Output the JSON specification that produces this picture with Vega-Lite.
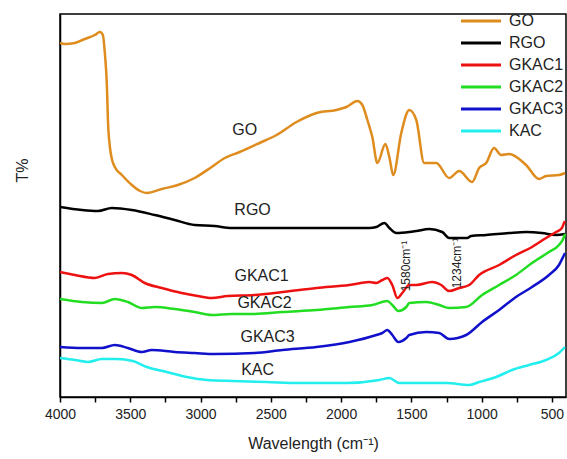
{
  "$schema": "https://vega.github.io/schema/vega-lite/v6.json",
  "width": 506,
  "height": 383,
  "autosize": {"type": "none"},
  "padding": {"left": 60, "top": 14, "right": 1, "bottom": 62},
  "background": "white",
  "config": {
    "view": {"stroke": "black", "strokeWidth": 1.5},
    "font": "Liberation Sans"
  },
  "datasets": {
    "spectra": [
      {"s":"GO","w":4000,"t":354},{"s":"GO","w":3965,"t":353},{"s":"GO","w":3894,"t":354},{"s":"GO","w":3823,"t":358},{"s":"GO","w":3752,"t":362},{"s":"GO","w":3716,"t":365},{"s":"GO","w":3695,"t":362},{"s":"GO","w":3681,"t":344},{"s":"GO","w":3666,"t":310},{"s":"GO","w":3659,"t":277},{"s":"GO","w":3645,"t":250},{"s":"GO","w":3631,"t":238},{"s":"GO","w":3610,"t":230},{"s":"GO","w":3560,"t":222},{"s":"GO","w":3489,"t":212},{"s":"GO","w":3430,"t":206},{"s":"GO","w":3382,"t":204},{"s":"GO","w":3276,"t":208},{"s":"GO","w":3162,"t":212},{"s":"GO","w":3042,"t":219},{"s":"GO","w":2921,"t":230},{"s":"GO","w":2828,"t":239},{"s":"GO","w":2722,"t":245},{"s":"GO","w":2580,"t":254},{"s":"GO","w":2459,"t":262},{"s":"GO","w":2317,"t":275},{"s":"GO","w":2175,"t":284},{"s":"GO","w":2033,"t":287},{"s":"GO","w":1962,"t":290},{"s":"GO","w":1884,"t":296},{"s":"GO","w":1849,"t":292},{"s":"GO","w":1813,"t":277},{"s":"GO","w":1778,"t":260},{"s":"GO","w":1742,"t":234},{"s":"GO","w":1685,"t":253},{"s":"GO","w":1657,"t":240},{"s":"GO","w":1629,"t":222},{"s":"GO","w":1572,"t":264},{"s":"GO","w":1515,"t":287},{"s":"GO","w":1465,"t":277},{"s":"GO","w":1409,"t":234},{"s":"GO","w":1323,"t":234},{"s":"GO","w":1231,"t":219},{"s":"GO","w":1160,"t":226},{"s":"GO","w":1068,"t":215},{"s":"GO","w":1018,"t":229},{"s":"GO","w":968,"t":234},{"s":"GO","w":912,"t":249},{"s":"GO","w":862,"t":242},{"s":"GO","w":805,"t":243},{"s":"GO","w":684,"t":232},{"s":"GO","w":592,"t":218},{"s":"GO","w":542,"t":221},{"s":"GO","w":450,"t":222},{"s":"GO","w":407,"t":224},

      {"s":"RGO","w":4000,"t":190},{"s":"RGO","w":3844,"t":187},{"s":"RGO","w":3730,"t":186},{"s":"RGO","w":3631,"t":189},{"s":"RGO","w":3489,"t":187},{"s":"RGO","w":3326,"t":182},{"s":"RGO","w":3184,"t":177},{"s":"RGO","w":3042,"t":172},{"s":"RGO","w":2900,"t":171},{"s":"RGO","w":2779,"t":169},{"s":"RGO","w":2616,"t":169},{"s":"RGO","w":2367,"t":169},{"s":"RGO","w":2062,"t":169},{"s":"RGO","w":1799,"t":169},{"s":"RGO","w":1749,"t":170},{"s":"RGO","w":1692,"t":174},{"s":"RGO","w":1657,"t":169},{"s":"RGO","w":1607,"t":164},{"s":"RGO","w":1515,"t":165},{"s":"RGO","w":1465,"t":166},{"s":"RGO","w":1373,"t":168},{"s":"RGO","w":1281,"t":165},{"s":"RGO","w":1231,"t":159},{"s":"RGO","w":1160,"t":159},{"s":"RGO","w":1103,"t":159},{"s":"RGO","w":1075,"t":161},{"s":"RGO","w":968,"t":162},{"s":"RGO","w":805,"t":164},{"s":"RGO","w":684,"t":165},{"s":"RGO","w":571,"t":164},{"s":"RGO","w":471,"t":162},{"s":"RGO","w":407,"t":163},

      {"s":"GKAC1","w":4000,"t":125},{"s":"GKAC1","w":3894,"t":122},{"s":"GKAC1","w":3752,"t":119},{"s":"GKAC1","w":3659,"t":123},{"s":"GKAC1","w":3560,"t":124},{"s":"GKAC1","w":3489,"t":122},{"s":"GKAC1","w":3397,"t":114},{"s":"GKAC1","w":3276,"t":109},{"s":"GKAC1","w":3134,"t":104},{"s":"GKAC1","w":3020,"t":101},{"s":"GKAC1","w":2921,"t":99},{"s":"GKAC1","w":2807,"t":101},{"s":"GKAC1","w":2616,"t":102},{"s":"GKAC1","w":2417,"t":105},{"s":"GKAC1","w":2175,"t":109},{"s":"GKAC1","w":1941,"t":112},{"s":"GKAC1","w":1799,"t":115},{"s":"GKAC1","w":1749,"t":114},{"s":"GKAC1","w":1707,"t":117},{"s":"GKAC1","w":1671,"t":119},{"s":"GKAC1","w":1636,"t":112},{"s":"GKAC1","w":1600,"t":99},{"s":"GKAC1","w":1565,"t":104},{"s":"GKAC1","w":1515,"t":112},{"s":"GKAC1","w":1465,"t":112},{"s":"GKAC1","w":1352,"t":115},{"s":"GKAC1","w":1288,"t":112},{"s":"GKAC1","w":1231,"t":106},{"s":"GKAC1","w":1160,"t":109},{"s":"GKAC1","w":1089,"t":112},{"s":"GKAC1","w":1018,"t":122},{"s":"GKAC1","w":876,"t":132},{"s":"GKAC1","w":756,"t":142},{"s":"GKAC1","w":642,"t":150},{"s":"GKAC1","w":542,"t":159},{"s":"GKAC1","w":471,"t":165},{"s":"GKAC1","w":429,"t":169},{"s":"GKAC1","w":414,"t":174},{"s":"GKAC1","w":407,"t":176},

      {"s":"GKAC2","w":4000,"t":98},{"s":"GKAC2","w":3844,"t":95},{"s":"GKAC2","w":3702,"t":94},{"s":"GKAC2","w":3610,"t":98},{"s":"GKAC2","w":3517,"t":95},{"s":"GKAC2","w":3418,"t":89},{"s":"GKAC2","w":3326,"t":90},{"s":"GKAC2","w":3184,"t":88},{"s":"GKAC2","w":3042,"t":85},{"s":"GKAC2","w":2921,"t":82},{"s":"GKAC2","w":2779,"t":83},{"s":"GKAC2","w":2616,"t":83},{"s":"GKAC2","w":2417,"t":85},{"s":"GKAC2","w":2175,"t":87},{"s":"GKAC2","w":1941,"t":90},{"s":"GKAC2","w":1778,"t":92},{"s":"GKAC2","w":1671,"t":96},{"s":"GKAC2","w":1636,"t":92},{"s":"GKAC2","w":1593,"t":86},{"s":"GKAC2","w":1536,"t":90},{"s":"GKAC2","w":1515,"t":94},{"s":"GKAC2","w":1394,"t":95},{"s":"GKAC2","w":1302,"t":92},{"s":"GKAC2","w":1231,"t":89},{"s":"GKAC2","w":1110,"t":90},{"s":"GKAC2","w":997,"t":102},{"s":"GKAC2","w":876,"t":112},{"s":"GKAC2","w":756,"t":122},{"s":"GKAC2","w":642,"t":134},{"s":"GKAC2","w":521,"t":145},{"s":"GKAC2","w":450,"t":152},{"s":"GKAC2","w":414,"t":160},{"s":"GKAC2","w":407,"t":163},

      {"s":"GKAC3","w":4000,"t":50},{"s":"GKAC3","w":3844,"t":49},{"s":"GKAC3","w":3702,"t":49},{"s":"GKAC3","w":3610,"t":52},{"s":"GKAC3","w":3517,"t":49},{"s":"GKAC3","w":3418,"t":45},{"s":"GKAC3","w":3347,"t":47},{"s":"GKAC3","w":3184,"t":45},{"s":"GKAC3","w":3042,"t":44},{"s":"GKAC3","w":2900,"t":43},{"s":"GKAC3","w":2616,"t":44},{"s":"GKAC3","w":2417,"t":47},{"s":"GKAC3","w":2175,"t":50},{"s":"GKAC3","w":1941,"t":55},{"s":"GKAC3","w":1749,"t":62},{"s":"GKAC3","w":1707,"t":64},{"s":"GKAC3","w":1671,"t":67},{"s":"GKAC3","w":1636,"t":62},{"s":"GKAC3","w":1593,"t":55},{"s":"GKAC3","w":1536,"t":59},{"s":"GKAC3","w":1515,"t":62},{"s":"GKAC3","w":1394,"t":65},{"s":"GKAC3","w":1302,"t":64},{"s":"GKAC3","w":1231,"t":58},{"s":"GKAC3","w":1110,"t":62},{"s":"GKAC3","w":997,"t":75},{"s":"GKAC3","w":876,"t":87},{"s":"GKAC3","w":756,"t":100},{"s":"GKAC3","w":642,"t":110},{"s":"GKAC3","w":521,"t":122},{"s":"GKAC3","w":450,"t":132},{"s":"GKAC3","w":414,"t":142},{"s":"GKAC3","w":407,"t":144},

      {"s":"KAC","w":4000,"t":39},{"s":"KAC","w":3894,"t":37},{"s":"KAC","w":3801,"t":35},{"s":"KAC","w":3702,"t":38},{"s":"KAC","w":3595,"t":38},{"s":"KAC","w":3482,"t":36},{"s":"KAC","w":3382,"t":30},{"s":"KAC","w":3240,"t":25},{"s":"KAC","w":3098,"t":20},{"s":"KAC","w":2956,"t":17},{"s":"KAC","w":2772,"t":16},{"s":"KAC","w":2530,"t":15},{"s":"KAC","w":2296,"t":14},{"s":"KAC","w":1962,"t":14},{"s":"KAC","w":1728,"t":17},{"s":"KAC","w":1657,"t":19},{"s":"KAC","w":1586,"t":14},{"s":"KAC","w":1444,"t":14},{"s":"KAC","w":1252,"t":14},{"s":"KAC","w":1089,"t":12},{"s":"KAC","w":1018,"t":15},{"s":"KAC","w":897,"t":20},{"s":"KAC","w":784,"t":27},{"s":"KAC","w":663,"t":32},{"s":"KAC","w":542,"t":37},{"s":"KAC","w":450,"t":44},{"s":"KAC","w":407,"t":50}
    ],
    "labels": [
      {"label":"GO","w":2686,"t":267},
      {"label":"RGO","w":2630,"t":187},
      {"label":"GKAC1","w":2566,"t":121},
      {"label":"GKAC2","w":2545,"t":94},
      {"label":"GKAC3","w":2523,"t":60},
      {"label":"KAC","w":2594,"t":27}
    ],
    "peaks": [
      {"label":"1580cm⁻¹","w":1536,"t":131},
      {"label":"1234cm⁻¹","w":1174,"t":134}
    ]
  },
  "encoding": {
    "x": {
      "field": "w", "type": "quantitative",
      "scale": {"domain": [400, 4000], "reverse": true, "nice": false, "zero": false},
      "axis": {
        "title": "Wavelength (cm⁻¹)",
        "values": [4000,3750,3500,3250,3000,2750,2500,2250,2000,1750,1500,1250,1000,750,500],
        "labelExpr": "datum.value % 500 === 0 ? datum.label : ''",
        "format": "d",
        "grid": false,
        "domainColor": "black", "domainWidth": 1.5,
        "tickColor": "black", "tickWidth": 1.5, "tickSize": 5,
        "labelFontSize": 14, "labelColor": "#222", "labelPadding": 5, "labelFlush": false,
        "titleFontSize": 16, "titleFontWeight": "normal", "titleColor": "#222", "titlePadding": 14
      }
    },
    "y": {
      "field": "t", "type": "quantitative",
      "scale": {"domain": [0, 383], "nice": false},
      "axis": {
        "title": "T%", "ticks": false, "labels": false, "grid": false,
        "domainColor": "black", "domainWidth": 1.5,
        "titleFontSize": 16, "titleFontWeight": "normal", "titleColor": "#222",
        "titleX": -38, "titleY": 156, "titleAngle": 270, "titleAlign": "center", "titleBaseline": "middle"
      }
    }
  },
  "layer": [
    {
      "data": {"name": "spectra"},
      "mark": {"type": "line", "strokeWidth": 2.5, "clip": true, "interpolate": "monotone"},
      "encoding": {
        "color": {
          "field": "s", "type": "nominal",
          "scale": {"domain": ["GO","RGO","GKAC1","GKAC2","GKAC3","KAC"], "range": ["#DE8C1E","#000000","#EE1111","#22DD22","#1111CC","#22EEEE"]},
          "legend": {
            "title": null, "orient": "none", "legendX": 413, "legendY": -1,
            "symbolType": "M-4,0H4", "symbolSize": 100, "symbolStrokeWidth": 3,
            "labelFontSize": 16, "labelColor": "#222", "labelOffset": 20,
            "rowPadding": 6, "padding": 0
          }
        }
      }
    },
    {
      "data": {"name": "labels"},
      "mark": {"type": "text", "fontSize": 16, "color": "#222", "align": "center", "baseline": "middle"},
      "encoding": {"text": {"field": "label"}}
    },
    {
      "data": {"name": "peaks"},
      "mark": {"type": "text", "fontSize": 12, "color": "#222", "align": "center", "baseline": "middle", "angle": 270},
      "encoding": {"text": {"field": "label"}}
    }
  ]
}
